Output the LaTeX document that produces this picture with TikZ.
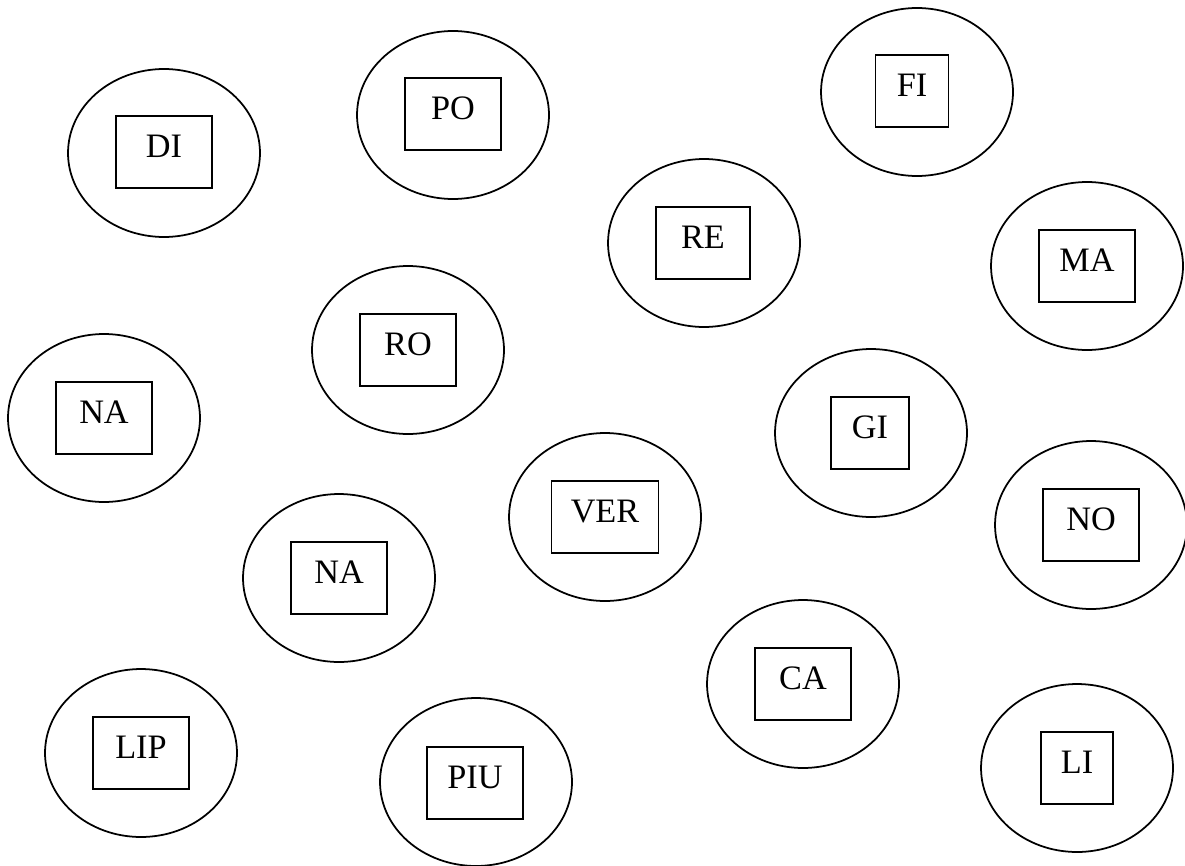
\documentclass[tikz,border=0pt]{standalone}
\usepackage{fontspec}
\setmainfont{Liberation Serif}
\usepackage{tikz}
\usetikzlibrary{shapes.geometric}

\begin{document}
\begin{tikzpicture}[
  x=0.02cm,y=-0.02cm,
  ring/.style={draw,line width=1pt,ellipse,inner sep=0pt,minimum width=3.84cm,minimum height=3.36cm},
  tag/.style={draw,line width=1pt,rectangle,inner sep=0pt,minimum width=1.92cm,minimum height=1.44cm,
    text height=0.46cm,text depth=0.24cm,font=\fontsize{19.5}{23}\selectfont}
]
\useasboundingbox (0,0) rectangle (1185,865);
% rings
\node[ring] (cdi) at (164,153) {};
\node[ring] (cpo) at (453,115) {};
\node[ring] (cfi) at (917,92) {};
\node[ring] (cre) at (704,243) {};
\node[ring] (cma) at (1087,266) {};
\node[ring] (cro) at (408,350) {};
\node[ring] (cnaA) at (104,418) {};
\node[ring] (cgi) at (871,433) {};
\node[ring] (cver) at (605,517) {};
\node[ring] (cno) at (1091,525) {};
\node[ring] (cnaB) at (339,578) {};
\node[ring] (cca) at (803,684) {};
\node[ring] (clip) at (141,753) {};
\node[ring] (cpiu) at (476,782) {};
\node[ring] (cli) at (1077,768) {};
% tags
\node[tag] (di) at (164,152) {DI};
\node[tag] (po) at (453,114) {PO};
\node[tag,minimum width=1.46cm] (fi) at (912,91) {FI};
\node[tag,minimum width=1.88cm] (re) at (703,243) {RE};
\node[tag] (ma) at (1087,266) {MA};
\node[tag] (ro) at (408,350) {RO};
\node[tag] (naA) at (104,418) {NA};
\node[tag,minimum width=1.56cm] (gi) at (870,433) {GI};
\node[tag,minimum width=2.14cm] (ver) at (605,517) {VER};
\node[tag] (no) at (1091,525) {NO};
\node[tag] (naB) at (339,578) {NA};
\node[tag] (ca) at (803,684) {CA};
\node[tag] (lip) at (141,753) {LIP};
\node[tag] (piu) at (475,783) {PIU};
\node[tag,minimum width=1.44cm] (li) at (1077,768) {LI};
\end{tikzpicture}
\end{document}
